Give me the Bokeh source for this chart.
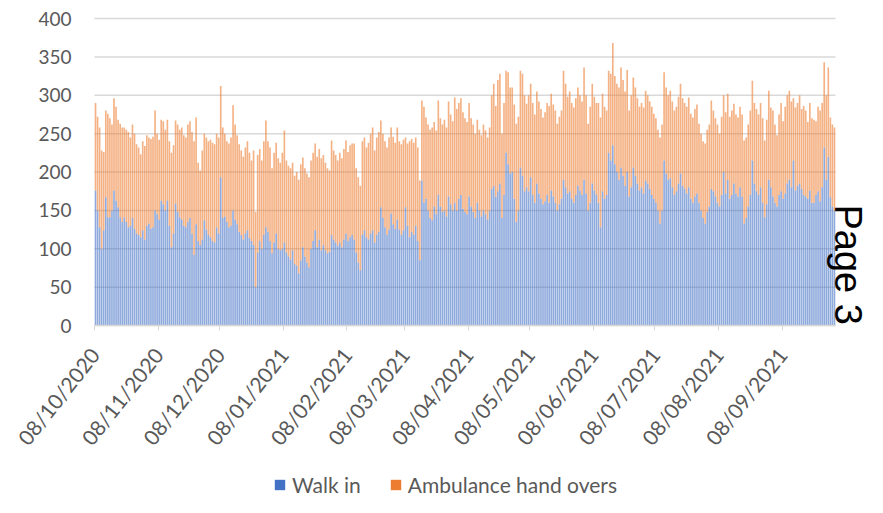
import math
import pandas as pd
from bokeh.plotting import figure
from bokeh.models import (ColumnDataSource, Range1d, FixedTicker, DatetimeTickFormatter,
                          Legend, LegendItem, Label)
from bokeh.embed import file_html
from bokeh.resources import INLINE

start_date = "2020-10-08"
series_names = ["Walk in", "Ambulance hand overs"]
tick_labels = ["08/10/2020", "08/11/2020", "08/12/2020", "08/01/2021", "08/02/2021",
               "08/03/2021", "08/04/2021", "08/05/2021", "08/06/2021", "08/07/2021",
               "08/08/2021", "08/09/2021"]
y_ticks = [0, 50, 100, 150, 200, 250, 300, 350, 400]

walk_in = [
    176, 150, 128, 100, 124, 167, 141,
    141, 150, 176, 163, 154, 141, 135,
    141, 135, 128, 130, 140, 126, 120,
    118, 115, 124, 112, 130, 133, 126,
    128, 150, 145, 138, 163, 158, 150,
    163, 130, 102, 120, 159, 148, 141,
    138, 130, 128, 135, 140, 120, 92,
    132, 110, 105, 112, 137, 125, 118,
    115, 110, 108, 128, 120, 193, 140,
    142, 135, 128, 130, 150, 138, 132,
    122, 118, 112, 120, 124, 114, 110,
    105, 50, 95, 110, 100, 118, 128,
    122, 110, 94, 108, 120, 100, 98,
    100, 108, 95, 90, 86, 98, 80,
    78, 68, 85, 102, 90, 82, 76,
    100, 110, 124, 102, 112, 98, 105,
    98, 94, 96, 118, 112, 108, 104,
    108, 102, 112, 120, 110, 115, 118,
    112, 95, 82, 72, 118, 124, 115,
    112, 120, 124, 108, 118, 122, 154,
    140, 128, 118, 125, 146, 132, 126,
    138, 125, 118, 124, 154, 130, 115,
    122, 118, 130, 110, 85, 189, 160,
    165, 150, 140, 137, 155, 145, 170,
    155, 148, 150, 142, 168, 158, 150,
    160, 150, 165, 170, 152, 148, 145,
    168, 155, 148, 140, 160, 150, 142,
    150, 145, 138, 150, 178, 182, 168,
    175, 185, 140, 170, 225, 210, 198,
    200, 165, 135, 150, 206, 195, 175,
    180, 175, 193, 170, 160, 185, 172,
    165, 158, 162, 170, 160, 176, 168,
    160, 150, 158, 165, 190, 180, 172,
    175, 165, 160, 170, 182, 176, 170,
    190, 172, 150, 160, 185, 176, 170,
    160, 128, 175, 165, 170, 225, 215,
    235, 210, 200, 190, 206, 195, 182,
    200, 168, 180, 206, 195, 185, 176,
    180, 172, 189, 185, 178, 170, 165,
    160, 150, 133, 150, 215, 198, 190,
    192, 180, 170, 175, 185, 198, 182,
    178, 172, 180, 165, 160, 168, 172,
    160, 150, 140, 133, 148, 155, 178,
    175, 168, 160, 155, 170, 200, 172,
    190, 165, 170, 185, 172, 168, 180,
    168, 133, 140, 155, 170, 215, 185,
    175, 170, 180, 160, 141, 158, 190,
    180, 168, 160, 155, 170, 175, 165,
    172, 185, 190, 180, 215, 176, 182,
    185, 178, 170, 168, 165, 176, 160,
    160, 170, 175, 162, 180, 232, 190,
    220, 167, 155, 150,
]

ambulance = [
    114, 122, 130, 128, 102, 113, 135,
    129, 112, 120, 122, 114, 122, 123,
    117, 120, 124, 115, 122, 124, 116,
    114, 108, 116, 122, 118, 112, 117,
    118, 130, 105, 104, 105, 108, 105,
    105, 110, 123, 115, 108, 114, 114,
    120, 118, 117, 127, 126, 132, 148,
    139, 102, 97, 116, 113, 120, 122,
    127, 128, 128, 122, 125, 119, 118,
    108, 105, 109, 115, 137, 124, 116,
    114, 110, 108, 112, 116, 111, 105,
    123, 98, 127, 120, 115, 122, 139,
    118, 122, 111, 117, 118, 118, 114,
    125, 146, 120, 118, 119, 114, 115,
    122, 122, 125, 117, 115, 116, 117,
    115, 115, 113, 118, 118, 120, 117,
    114, 111, 106, 123, 116, 114, 111,
    117, 116, 118, 121, 116, 120, 119,
    125, 110, 111, 110, 122, 121, 117,
    126, 130, 134, 120, 127, 130, 113,
    110, 112, 114, 120, 112, 114, 112,
    120, 115, 118, 118, 91, 107, 125,
    121, 120, 115, 122, 104, 104, 125,
    106, 112, 115, 121, 110, 109, 123,
    115, 114, 118, 116, 124, 117, 116,
    137, 132, 125, 126, 126, 122, 120,
    122, 115, 114, 110, 108, 105, 106,
    112, 109, 107, 108, 122, 133, 118,
    145, 143, 110, 120, 107, 120, 112,
    110, 123, 128, 122, 126, 133, 125,
    109, 125, 122, 120, 115, 120, 120,
    117, 113, 116, 120, 126, 126, 120,
    120, 113, 114, 115, 142, 135, 126,
    130, 125, 124, 126, 128, 124, 122,
    146, 128, 113, 125, 130, 122, 120,
    130, 143, 127, 120, 110, 107, 113,
    133, 115, 115, 120, 130, 125, 123,
    133, 112, 120, 117, 115, 111, 109,
    110, 112, 117, 115, 114, 115, 111,
    110, 105, 112, 112, 115, 112, 110,
    114, 112, 110, 110, 113, 117, 114,
    112, 113, 117, 111, 111, 114, 116,
    103, 100, 100, 104, 107, 107, 115,
    105, 102, 102, 95, 102, 100, 106,
    112, 107, 110, 104, 103, 103, 105,
    107, 108, 105, 107, 110, 104, 105,
    107, 105, 110, 110, 100, 110, 116,
    104, 112, 102, 93, 105, 115, 101,
    113, 115, 116, 112, 81, 108, 108,
    115, 104, 116, 112, 100, 114, 110,
    108, 96, 110, 118, 110, 111, 110,
    116, 104, 107, 108,
]

# ---------------- layout constants (pixels) ----------------
W, H = 867, 497
LEFT, TOP = 94, 18        # chart area left edge / row of the top gridline
DATA_RIGHT = 835          # where the last bar ends
ZERO_Y = 325              # pixel row of value 0
Y_MAX = 400

DAY = pd.Timedelta(days=1)
DAY_MS = 86400000
dates = pd.date_range(start_date, periods=len(walk_in), freq="D")
x_start = dates[0]
x_data_end = dates[-1] + DAY
n_days = len(walk_in)

# The frame covers the whole canvas (axes are pinned inside it with
# fixed_location), so the tick labels, the legend and the "Page 3" note
# are never clipped.
px_per_day = (DATA_RIGHT - LEFT) / n_days
x_lo = x_start - DAY * (LEFT / px_per_day)
x_hi = x_start + DAY * ((W - LEFT) / px_per_day)
px_per_unit = (ZERO_Y - TOP) / Y_MAX
y_lo = -(H - ZERO_Y) / px_per_unit
y_hi = Y_MAX + TOP / px_per_unit

src = ColumnDataSource(dict(x=dates + pd.Timedelta(hours=12), walk=walk_in, amb=ambulance))

GREY = "#595959"
GRID = "#D9D9D9"
BLUE, ORANGE = "#4472C4", "#ED7D31"
FONT = "Lato"

p = figure(width=W, height=H, x_axis_type="datetime", output_backend="svg",
           toolbar_location=None, min_border=0)
p.x_range = Range1d(x_lo, x_hi)
p.y_range = Range1d(y_lo, y_hi)

# horizontal gridlines, limited to the chart area
p.segment(x0=[x_start] * len(y_ticks), x1=[x_data_end] * len(y_ticks),
          y0=y_ticks, y1=y_ticks, line_color=GRID, line_width=1.5, level="underlay")

p.vbar_stack(["walk", "amb"], x="x", width=0.8 * DAY_MS, source=src,
             fill_color=[BLUE, ORANGE], fill_alpha=0.6, line_width=0)

# legend swatches in the solid series colours (zero-height bars, invisible in the chart)
d1 = p.vbar(x=[dates[0]], top=[0], bottom=[0], width=DAY_MS, fill_color=BLUE, line_width=0)
d2 = p.vbar(x=[dates[0]], top=[0], bottom=[0], width=DAY_MS, fill_color=ORANGE, line_width=0)
legend = Legend(items=[LegendItem(label=series_names[0], renderers=[d1]),
                       LegendItem(label=series_names[1], renderers=[d2])],
                orientation="horizontal", location=(273, 0),
                label_text_font=FONT, label_text_font_size="21px", label_text_color=GREY,
                glyph_width=13, glyph_height=13, spacing=28, padding=0, margin=0,
                label_standoff=6, border_line_alpha=0, background_fill_alpha=0)
p.add_layout(legend, "center")

tick_dates = pd.to_datetime(tick_labels, format="%d/%m/%Y")
xa = p.xaxis[0]
xa.fixed_location = 0
xa.bounds = (x_start.timestamp() * 1000, x_data_end.timestamp() * 1000)
xa.ticker = FixedTicker(ticks=[t.timestamp() * 1000 for t in tick_dates])
fmt = "%d/%m/%Y"
xa.formatter = DatetimeTickFormatter(days=fmt, months=fmt, years=fmt, hours=fmt,
                                     minutes=fmt, seconds=fmt, milliseconds=fmt,
                                     minsec=fmt, hourmin=fmt)
xa.major_label_orientation = 0.9
xa.major_label_text_font = FONT
xa.major_label_text_font_size = "21px"
xa.major_label_text_color = GREY
xa.axis_line_color = GRID
xa.axis_line_width = 1.5
xa.major_tick_line_color = GRID
xa.major_tick_in = 0
xa.major_tick_out = 5
xa.minor_tick_line_alpha = 0
xa.major_label_standoff = 20

ya = p.yaxis[0]
ya.fixed_location = x_start.timestamp() * 1000
ya.bounds = (0, Y_MAX)
ya.ticker = FixedTicker(ticks=y_ticks)
ya.axis_line_alpha = 0
ya.major_tick_line_alpha = 0
ya.minor_tick_line_alpha = 0
ya.major_label_text_font = FONT
ya.major_label_text_font_size = "19px"
ya.major_label_text_color = GREY
ya.major_label_standoff = 17

p.xgrid.grid_line_color = None
p.ygrid.grid_line_color = None
p.outline_line_color = None

page = Label(x=847, y=H - 204, x_units="screen", y_units="screen", text="Page 3",
             angle=-math.pi / 2, text_align="left", text_baseline="middle",
             text_font="Liberation Sans", text_font_size="38px", text_color="#000000")
p.add_layout(page)

open("out.html", "w").write(file_html(p, INLINE))
